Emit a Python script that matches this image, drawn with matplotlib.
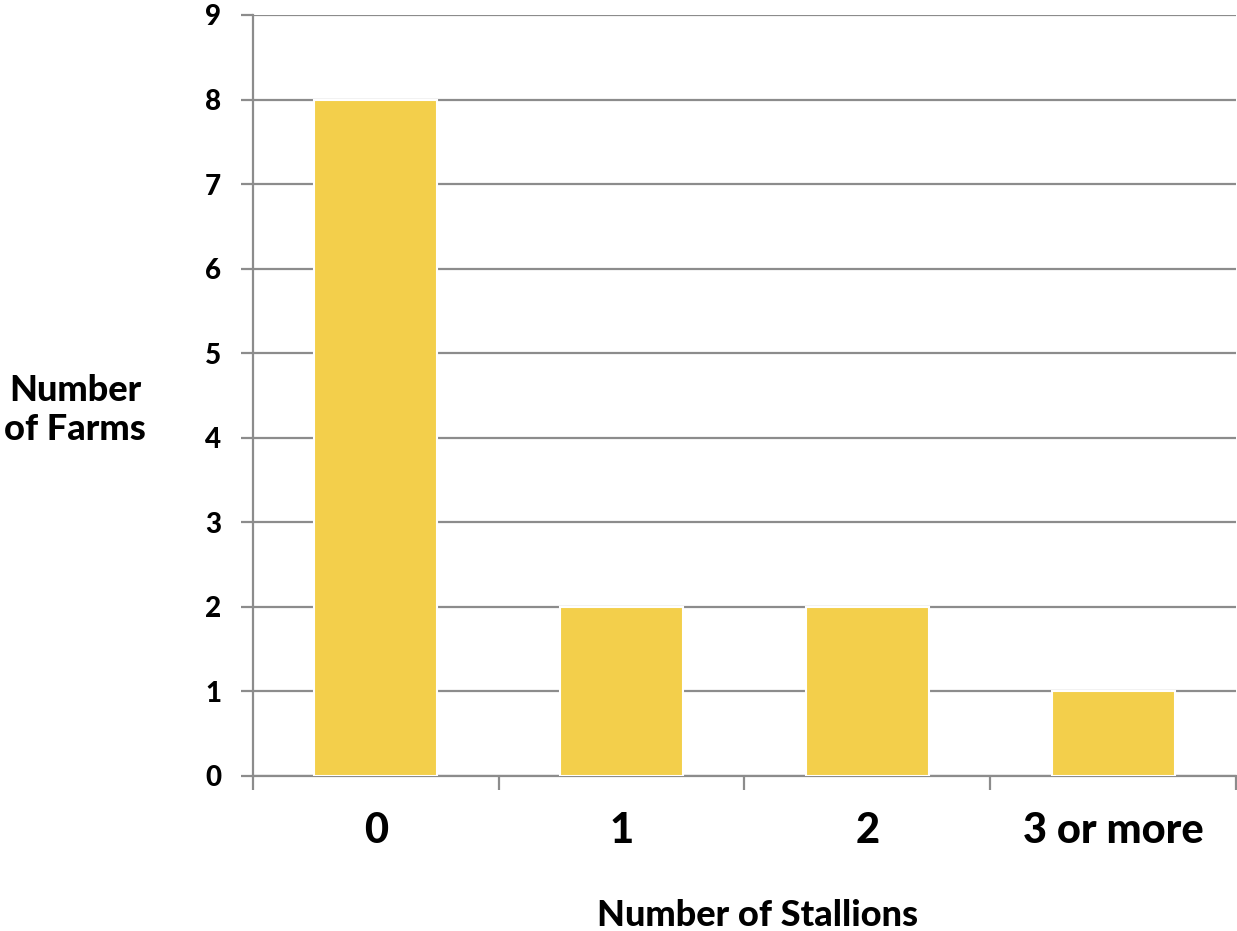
import matplotlib.pyplot as plt
import numpy as np

categories = ["0", "1", "2", "3 or more"]
farms = [8, 2, 2, 1]
yticks = [0, 1, 2, 3, 4, 5, 6, 7, 8, 9]

plt.rcParams['font.family'] = ['Lato', 'DejaVu Sans']

W = 'black'

fig = plt.figure(figsize=(12.37, 9.31), dpi=100)
ax = fig.add_axes([0.2045, 0.1665, 0.7947, 0.8174])

grid_col = "#8c8c8c"
x = np.arange(len(categories))
ax.bar(x, farms, width=0.5, color="#F3CF4B", edgecolor="white", linewidth=1.5, zorder=3)

ax.set_xlim(-0.5, len(categories) - 0.5)
ax.set_ylim(0, 9)
ax.set_yticks(yticks)
ax.set_yticklabels([str(t) for t in yticks], fontsize=20, fontweight=W)
ax.yaxis.grid(True, color=grid_col, linewidth=1.6, zorder=0)
ax.set_axisbelow(True)

# category labels at bar centers, tick marks at boundaries
ax.set_xticks(x)
ax.set_xticklabels(categories, fontsize=30, fontweight=W)
ax.tick_params(axis='x', which='major', length=0, pad=26)
ax.set_xticks(np.arange(-0.5, len(categories)), minor=True)
ax.tick_params(axis='x', which='minor', length=10, width=1.6, color=grid_col)
ax.tick_params(axis='y', length=9, width=1.6, color=grid_col, pad=14)

for s in ["top", "right"]:
    ax.spines[s].set_visible(False)
for s in ["left", "bottom"]:
    ax.spines[s].set_color(grid_col)
    ax.spines[s].set_linewidth(1.6)

fig.text(75 / 1237, 1 - 410 / 931, "Number\nof Farms", ha='center', va='center',
         fontsize=26, fontweight=W, linespacing=1.2)
fig.text(758 / 1237, 1 - 915 / 931, "Number of Stallions", ha='center', va='center',
         fontsize=26, fontweight=W)

fig.savefig("out.png", dpi=100)
